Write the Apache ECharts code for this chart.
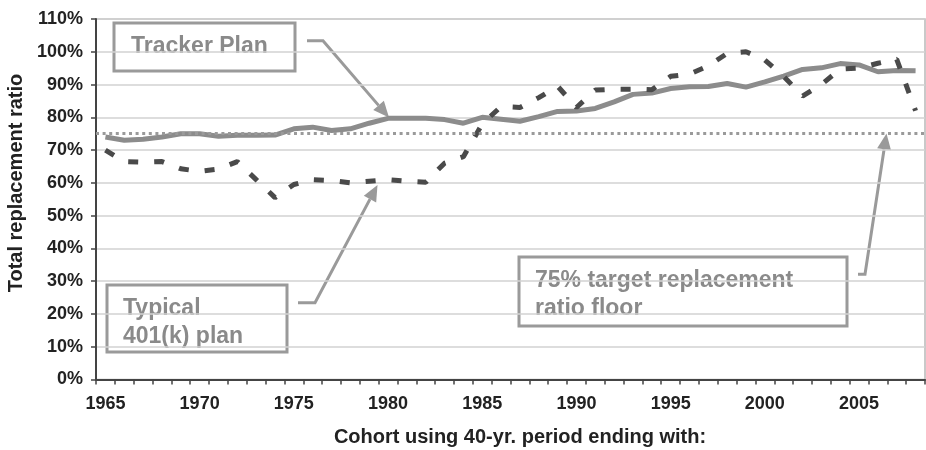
<!DOCTYPE html>
<html>
<head>
<meta charset="utf-8">
<script src="https://cdn.jsdelivr.net/npm/echarts@6/dist/echarts.min.js"></script>
<style>
    html, body { margin: 0; padding: 0; background: #fff; }
    #chart { width: 926px; height: 450px; }
</style>
</head>
<body>
<div id="chart"></div>
<script>
const years = [];
for (let y = 1965; y <= 2008; y++) years.push(String(y));

const trackerPlan = [
    74, 73, 73.3, 74, 75, 75, 74.2, 74.5, 74.5, 74.6,
    76.5, 77, 76, 76.5, 78.2, 79.7, 79.7, 79.7, 79.3, 78.2,
    80, 79.4, 78.8, 80.2, 81.8, 81.9, 82.7, 84.7, 87, 87.4,
    88.8, 89.3, 89.4, 90.3, 89.2, 90.8, 92.6, 94.6, 95.1, 96.4,
    96, 93.9, 94.3, 94.2,
];
const typical401k = [
    70, 66.5, 66.3, 66.5, 64.3, 63.5, 64.2, 66.5, 61, 55.5,
    59.5, 61, 60.7, 60, 60.5, 61, 60.5, 60.2, 66, 68,
    78, 83.3, 83, 86, 89.5, 83, 88.3, 88.6, 88.6, 88.4,
    92.5, 93.2, 95.7, 99.5, 100, 97.5, 92.5, 86.5, 90, 94.7,
    95, 96.5, 97.7, 82,
];
const targetFloor = 75;

const font = 'Liberation Sans, Arial, sans-serif';
const boxColor = '#9a9a9a';
const noteColor = '#8a8a8a';

const chart = echarts.init(document.getElementById('chart'));

function arrow(points, tip) {
    // polyline ending in a filled triangular head at tip
    const from = points[points.length - 1];
    const dx = tip[0] - from[0];
    const dy = tip[1] - from[1];
    const len = Math.sqrt(dx * dx + dy * dy);
    const ux = dx / len, uy = dy / len;
    const headLen = 16, headW = 7;
    const base = [tip[0] - ux * headLen, tip[1] - uy * headLen];
    return [
        {
            type: 'polyline',
            shape: { points: points.concat([base]) },
            style: { stroke: boxColor, lineWidth: 3, fill: null },
        },
        {
            type: 'polygon',
            shape: {
                points: [
                    tip,
                    [base[0] - uy * headW, base[1] + ux * headW],
                    [base[0] + uy * headW, base[1] - ux * headW],
                ],
            },
            style: { fill: boxColor },
        },
    ];
}

function note(x, y, w, h, lines, tx, ty) {
    const els = [{
        type: 'rect',
        shape: { x: x, y: y, width: w, height: h },
        style: { stroke: boxColor, lineWidth: 3, fill: null },
    }];
    lines.forEach((t, i) => {
        els.push({
            type: 'text',
            style: {
                x: tx, y: ty + i * 28, text: t,
                font: 'bold 23px ' + font, fill: noteColor,
                textAlign: 'left', textVerticalAlign: 'middle',
            },
        });
    });
    return els;
}

const graphics = [].concat(
    note(114, 23, 181, 48, ['Tracker Plan'], 131, 46.5),
    arrow([[307, 40.7], [323, 40.7]], [389, 117.5]),
    note(107, 285, 180, 67, ['Typical', '401(k) plan'], 123, 308.5),
    arrow([[298, 302.7], [315, 302.7]], [377.5, 185]),
    note(519, 257, 328, 69, ['75% target replacement', 'ratio floor'], 535, 280.5),
    arrow([[858, 274.3], [865, 274.3]], [886.5, 133.5]),
    [
        {
            type: 'text',
            x: 16, y: 183, rotation: Math.PI / 2,
            style: {
                text: 'Total replacement ratio', font: 'bold 20px ' + font,
                fill: '#222', textAlign: 'center', textVerticalAlign: 'middle',
            },
        },
        {
            type: 'text',
            style: {
                x: 520, y: 437, text: 'Cohort using 40-yr. period ending with:',
                font: 'bold 20px ' + font, fill: '#222',
                textAlign: 'center', textVerticalAlign: 'middle',
            },
        },
    ]
);

chart.setOption({
    animation: false,
    backgroundColor: '#fff',
    grid: {
        left: 96, right: 1, top: 19, bottom: 70.5,
        show: true, borderColor: '#b8b8b8', borderWidth: 1.5,
    },
    xAxis: {
        type: 'category',
        data: years,
        boundaryGap: true,
        axisLine: { lineStyle: { color: '#444', width: 2 } },
        axisTick: { show: true, interval: 0, length: 5, lineStyle: { color: '#444', width: 1.5 } },
        axisLabel: {
            interval: 4, margin: 16,
            color: '#222', fontFamily: font, fontWeight: 'bold', fontSize: 18,
        },
        splitLine: { show: false },
    },
    yAxis: {
        type: 'value',
        min: 0, max: 110, interval: 10,
        axisLine: { show: true, lineStyle: { color: '#444', width: 2 } },
        axisTick: { show: true, length: 5, lineStyle: { color: '#444', width: 1.5 } },
        axisLabel: {
            formatter: '{value}%', margin: 13,
            color: '#222', fontFamily: font, fontWeight: 'bold', fontSize: 18,
        },
        splitLine: { lineStyle: { color: '#d2d2d2', width: 1.5 } },
    },
    series: [
        {
            name: 'Tracker Plan',
            type: 'line',
            data: trackerPlan,
            symbol: 'none',
            z: 3,
            lineStyle: { color: '#8c8c8c', width: 5 },
            markLine: {
                silent: true,
                symbol: 'none',
                label: { show: false },
                lineStyle: { color: '#9a9a9a', width: 3, type: [3, 3.6] },
                data: [{ yAxis: targetFloor }],
            },
        },
        {
            name: 'Typical 401(k) plan',
            type: 'line',
            data: typical401k,
            symbol: 'none',
            z: 4,
            lineStyle: { color: '#4a4a4a', width: 5, type: [10, 16], cap: 'butt' },
        },
    ],
    graphic: graphics,
});
</script>
</body>
</html>
